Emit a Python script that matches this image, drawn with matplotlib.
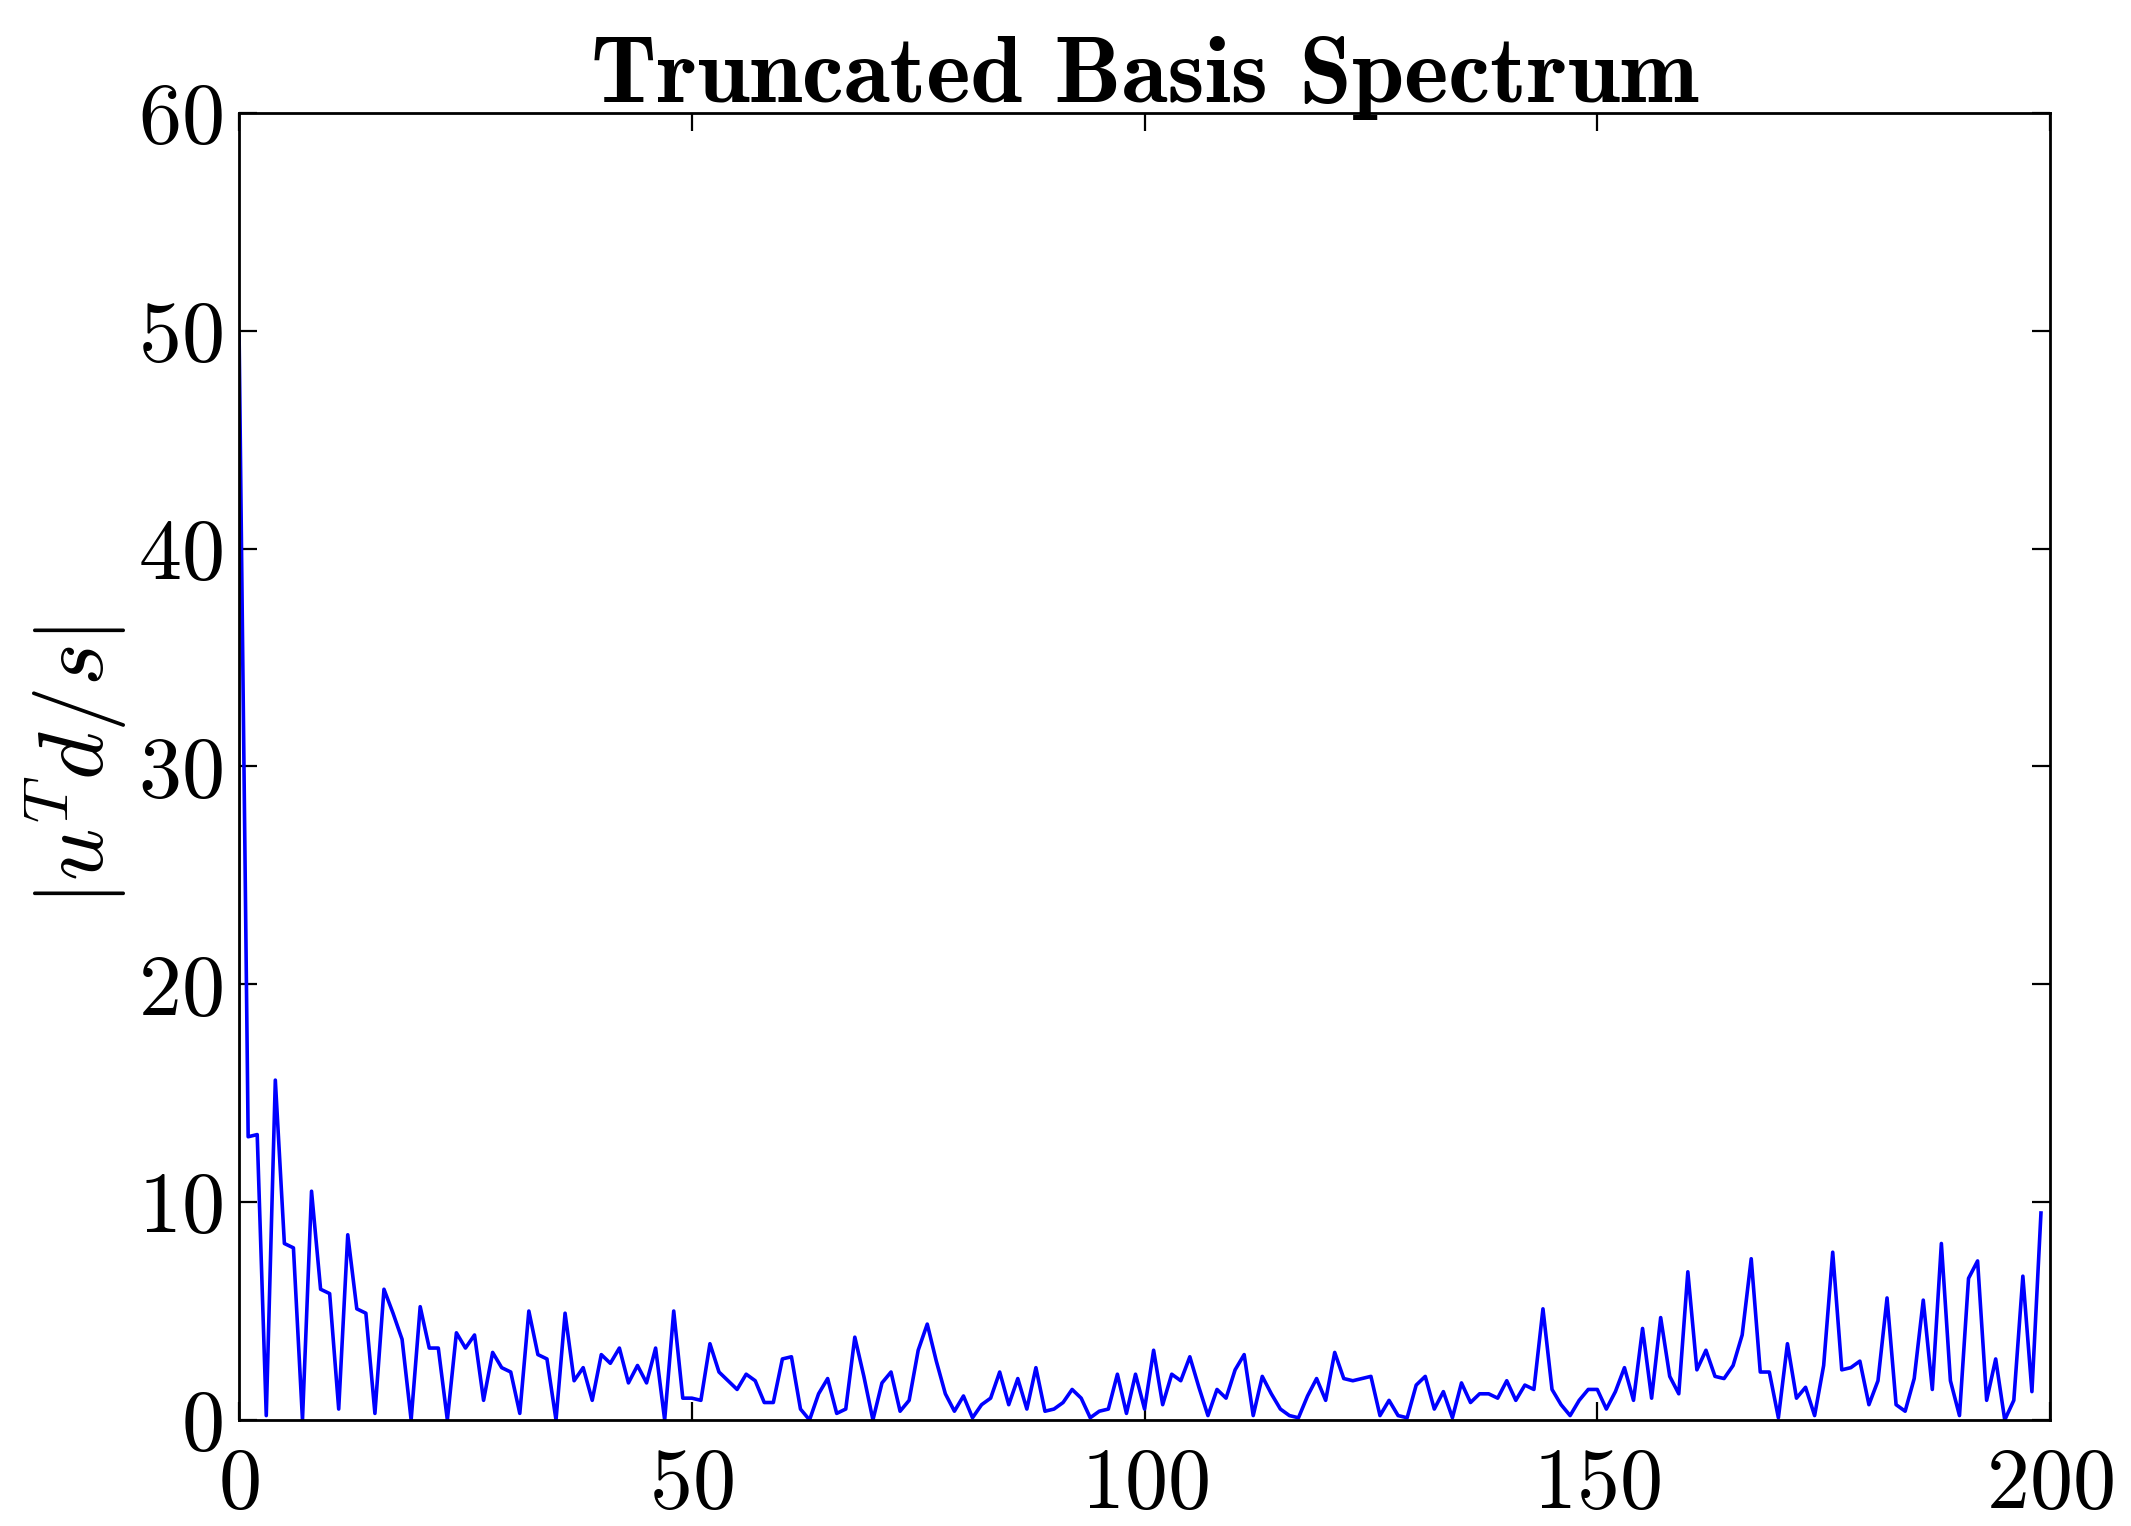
"""Truncated basis spectrum |u^T d / s| per basis index"""
import numpy as np
import matplotlib
matplotlib.use("Agg")
import matplotlib.pyplot as plt


plt.rcParams["font.family"] = "serif"
plt.rcParams["font.serif"] = ["cmr10"]
plt.rcParams["mathtext.fontset"] = "cm"
plt.rcParams["axes.formatter.use_mathtext"] = True

# coefficients, index 0..199
spec_0_49 = [49.8, 13.0, 13.1, 0.2, 15.6, 8.1, 7.9, 0.0, 10.5, 6.0,
             5.8, 0.5, 8.5, 5.1, 4.9, 0.3, 6.0, 4.9, 3.7, 0.0,
             5.2, 3.3, 3.3, 0.0, 4.0, 3.3, 3.9, 0.9, 3.1, 2.4,
             2.2, 0.3, 5.0, 3.0, 2.8, 0.0, 4.9, 1.8, 2.4, 0.9,
             3.0, 2.6, 3.3, 1.7, 2.5, 1.7, 3.3, 0.0, 5.0, 1.0]
spec_50_99 = [1.0, 0.9, 3.5, 2.2, 1.8, 1.4, 2.1, 1.8, 0.8, 0.8,
              2.8, 2.9, 0.5, 0.0, 1.2, 1.9, 0.3, 0.5, 3.8, 2.0,
              0.0, 1.7, 2.2, 0.4, 0.9, 3.2, 4.4, 2.7, 1.2, 0.4,
              1.1, 0.1, 0.7, 1.0, 2.2, 0.7, 1.9, 0.5, 2.4, 0.4,
              0.5, 0.8, 1.4, 1.0, 0.1, 0.4, 0.5, 2.1, 0.3, 2.1]
spec_100_149 = [0.5, 3.2, 0.7, 2.1, 1.8, 2.9, 1.5, 0.2, 1.4, 1.0,
                2.3, 3.0, 0.2, 2.0, 1.2, 0.5, 0.2, 0.1, 1.1, 1.9,
                0.9, 3.1, 1.9, 1.8, 1.9, 2.0, 0.2, 0.9, 0.2, 0.1,
                1.6, 2.0, 0.5, 1.3, 0.1, 1.7, 0.8, 1.2, 1.2, 1.0,
                1.8, 0.9, 1.6, 1.4, 5.1, 1.4, 0.7, 0.2, 0.9, 1.4]
spec_150_199 = [1.4, 0.5, 1.3, 2.4, 0.9, 4.2, 1.0, 4.7, 2.0, 1.2,
                6.8, 2.3, 3.2, 2.0, 1.9, 2.5, 3.9, 7.4, 2.2, 2.2,
                0.1, 3.5, 1.0, 1.5, 0.2, 2.5, 7.7, 2.3, 2.4, 2.7,
                0.7, 1.8, 5.6, 0.7, 0.4, 1.9, 5.5, 1.4, 8.1, 1.8,
                0.2, 6.5, 7.3, 0.9, 2.8, 0.0, 0.9, 6.6, 1.3, 9.5]

spectrum = np.array(spec_0_49 + spec_50_99 + spec_100_149 + spec_150_199)
idx = np.arange(len(spectrum))


fig = plt.figure(figsize=(2131 / 200, 1526 / 200), dpi=200)
ax = fig.add_axes([0.1122, 0.0695, 0.8498, 0.8565])

ax.plot(idx, spectrum, color="#0000ff", linewidth=1.3)
ax.set_xlim(0, 200)
ax.set_ylim(0, 60)
ax.set_xticks([0, 50, 100, 150, 200])
ax.set_yticks([0, 10, 20, 30, 40, 50, 60])

ax.tick_params(direction="in", top=True, right=True, length=6.5, width=0.8,
               labelsize=31, pad=6)
ax.tick_params(axis="x", pad=10)
for s in ax.spines.values():
    s.set_linewidth(1.0)

ax.set_ylabel(r"$|u^T d/s|$", fontsize=33, labelpad=3)
ax.set_title("Truncated Basis Spectrum", fontsize=34, family="cmb10", pad=4)

plt.savefig("out.png", dpi=200)
